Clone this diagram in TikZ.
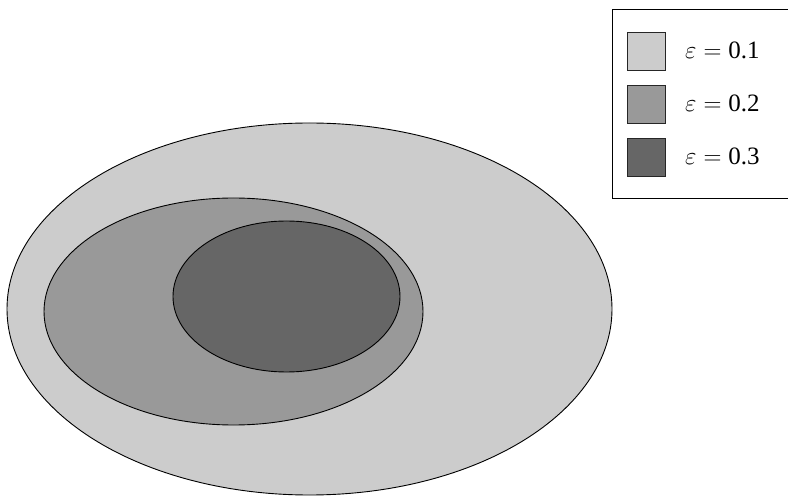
\documentclass[tikz,border=0pt]{standalone}
\usepackage{fontspec}
\setmainfont{Liberation Serif}
\definecolor{gA}{HTML}{CCCCCC}
\definecolor{gB}{HTML}{999999}
\definecolor{gC}{HTML}{666666}
\tikzset{
  region/.style={draw=black, line width=0.9pt},
  swatch/.style={draw=black!85, line width=0.9pt, minimum width=38pt, minimum height=38pt, inner sep=0pt, anchor=north west},
  legtext/.style={anchor=base west, inner sep=0pt, font=\fontsize{25}{30}\selectfont},
  legbox/.style={draw=black, line width=0.9pt, fill=white}
}
\begin{document}
\begin{tikzpicture}[x=1pt, y=-1pt]
\useasboundingbox (0,0) rectangle (788,497);
% regions
\fill[gA, region] (309.5,309) ellipse [x radius=302.5, y radius=186];
\fill[gB, region] (233.5,311.5) ellipse [x radius=189.5, y radius=113.5];
\fill[gC, region] (286.5,296.5) ellipse [x radius=113.5, y radius=75.5];
% legend
\node[legbox, anchor=north west, minimum width=180pt, minimum height=189pt, inner sep=0pt] (leg) at (611.5,9.5) {};
\node[swatch, fill=gA] (s1) at (627,32) {};
\node[swatch, fill=gB] (s2) at (627,85) {};
\node[swatch, fill=gC] (s3) at (627,138) {};
\node[legtext] (t1) at (685,59) {$\varepsilon = \mbox{0.1}$};
\node[legtext] (t2) at (685,112) {$\varepsilon = \mbox{0.2}$};
\node[legtext] (t3) at (685,165) {$\varepsilon = \mbox{0.3}$};
\end{tikzpicture}
\end{document}
